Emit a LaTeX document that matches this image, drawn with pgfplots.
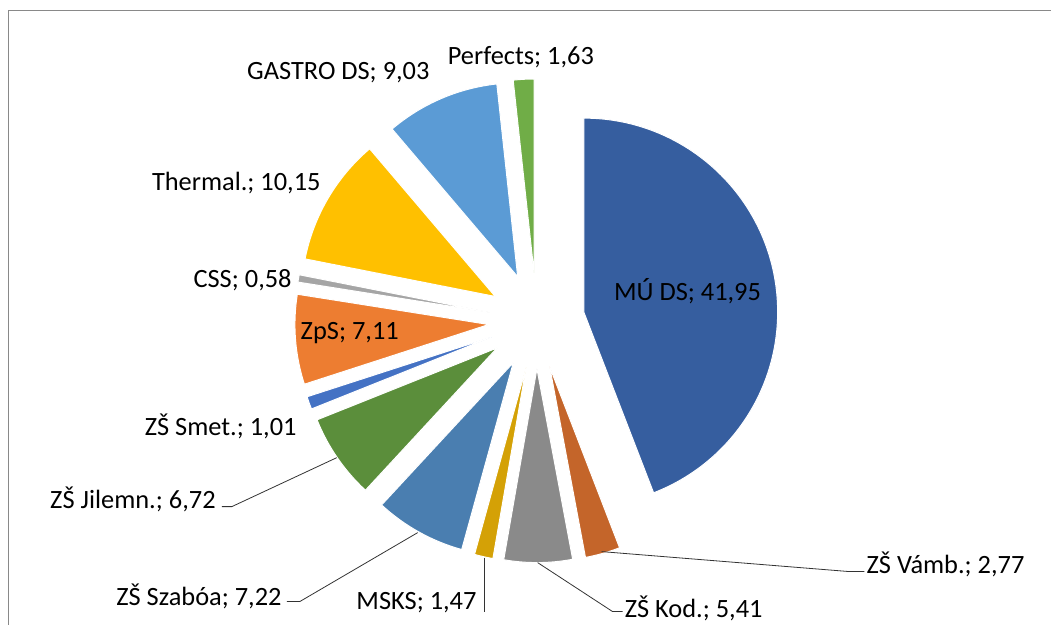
\documentclass[border=0pt]{standalone}
\usepackage{pgfplots}
\usepackage{pgfplotstable}
\pgfplotsset{compat=1.18}
\usepackage{fontspec}
\setmainfont{Carlito}

\definecolor{c0}{HTML}{365E9F}
\definecolor{c1}{HTML}{C4652A}
\definecolor{c2}{HTML}{8A8A8A}
\definecolor{c3}{HTML}{D4A106}
\definecolor{c4}{HTML}{4A7EB0}
\definecolor{c5}{HTML}{5B8E3B}
\definecolor{c6}{HTML}{4472C4}
\definecolor{c7}{HTML}{ED7D31}
\definecolor{c8}{HTML}{A5A5A5}
\definecolor{c9}{HTML}{FFC000}
\definecolor{c10}{HTML}{5B9BD5}
\definecolor{c11}{HTML}{70AD47}
\definecolor{frame}{HTML}{898989}

\tikzset{lbl/.style={font=\fontsize{26.4}{30}\selectfont, text=black, inner sep=0pt}}

% values of the slices, clockwise from 12 o'clock
\pgfplotstableread[col sep=comma]{
name,value
MÚ DS,41.95
ZŠ Vámb.,2.77
ZŠ Kod.,5.41
MSKS,1.47
ZŠ Szabóa,7.22
ZŠ Jilemn.,6.72
ZŠ Smet.,1.01
ZpS,7.11
CSS,0.58
Thermal.,10.15
GASTRO DS,9.03
Perfects,1.63
}\piedata

\begin{document}
\begin{tikzpicture}
\begin{axis}[x=1pt,y=1pt,xmin=0,xmax=1052,ymin=0,ymax=625,
  hide axis,clip=false]
\path (axis cs:0,0) rectangle (axis cs:1052,625);
\xdef\piesum{0}
\pgfplotsinvokeforeach{0,...,11}{%
  \pgfplotstablegetelem{#1}{value}\of\piedata
  \pgfmathparse{\piesum+\pgfplotsretval}\xdef\piesum{\pgfmathresult}%
}
\xdef\cum{0}
\pgfplotsinvokeforeach{0,...,11}{%
  \pgfplotstablegetelem{#1}{value}\of\piedata
  \pgfmathsetmacro\va{90-\cum/\piesum*360}%
  \pgfmathsetmacro\vb{90-(\cum+\pgfplotsretval)/\piesum*360}%
  \pgfmathparse{\cum+\pgfplotsretval}\xdef\cum{\pgfmathresult}%
  \pgfmathsetmacro\vm{(\va+\vb)/2}%
  \pgfmathsetmacro\tx{537+48*cos(\vm)}%
  \pgfmathsetmacro\ty{304+48*sin(\vm)}%
  \edef\temp{\noexpand\fill[c#1, draw=white, line width=1pt] (axis cs:\tx,\ty) -- ++(\va:194pt) arc[start angle=\va, end angle=\vb, radius=194pt] -- cycle;}%
  \temp
}
% frame of the chart area
\draw[frame, line width=1.5pt] (axis cs:8.5,0) -- (axis cs:8.5,614.5) -- (axis cs:1052,614.5);
% leader lines
\draw[black!80, line width=0.8pt] (axis cs:602,73) -- (axis cs:850,53) -- (axis cs:865,53);
\draw[black!80, line width=0.8pt] (axis cs:538,62) -- (axis cs:613,13) -- (axis cs:623,13);
\draw[black!80, line width=0.8pt] (axis cs:485,67) -- (axis cs:485,13);
\draw[black!80, line width=0.8pt] (axis cs:418,92) -- (axis cs:300,23) -- (axis cs:287,23);
\draw[black!80, line width=0.8pt] (axis cs:337,167) -- (axis cs:232,118) -- (axis cs:222,118);
% data labels
\node[lbl] at (axis cs:688,334) {MÚ DS; 41,95};
\node[lbl, anchor=west] at (axis cs:867,60) {ZŠ Vámb.; 2,77};
\node[lbl, anchor=west] at (axis cs:625,16) {ZŠ Kod.; 5,41};
\node[lbl, anchor=east] at (axis cs:477,22) {MSKS; 1,47};
\node[lbl, anchor=east] at (axis cs:282,28) {ZŠ Szabóa; 7,22};
\node[lbl, anchor=east] at (axis cs:216,125) {ZŠ Jilemn.; 6,72};
\node[lbl, anchor=east] at (axis cs:297,198) {ZŠ Smet.; 1,01};
\node[lbl] at (axis cs:350,292) {ZpS; 7,11};
\node[lbl, anchor=east] at (axis cs:292,345) {CSS; 0,58};
\node[lbl, anchor=east] at (axis cs:321,442) {Thermal.; 10,15};
\node[lbl, anchor=east] at (axis cs:430,552) {GASTRO DS; 9,03};
\node[lbl, anchor=west] at (axis cs:448,568) {Perfects; 1,63};
\end{axis}
\end{tikzpicture}
\end{document}
